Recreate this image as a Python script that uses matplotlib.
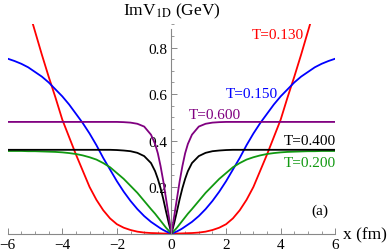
import matplotlib
matplotlib.use("Agg")
import matplotlib.pyplot as plt
import numpy as np
from matplotlib.ticker import MultipleLocator, FixedLocator

plt.rcParams['font.family'] = ['Liberation Serif', 'DejaVu Serif']
plt.rcParams['mathtext.fontset'] = 'stix'

# values, x >= 0 half (curves are symmetric in x)
x_half = [0, 0.1, 0.2, 0.3, 0.4, 0.5, 0.6, 0.75, 1.0, 1.25, 1.5, 1.75, 2.0, 2.25,
          2.5, 2.75, 3.0, 3.25, 3.5, 3.75, 4.0, 4.25, 4.5, 4.75, 5.0, 5.25, 5.5,
          5.75, 6.0]
v_t130 = [0, 0, 0, 0, 0.0005, 0.001, 0.0015, 0.002, 0.004, 0.008, 0.015, 0.025,
          0.04, 0.065, 0.1, 0.145, 0.2, 0.27, 0.34, 0.415, 0.49, 0.585, 0.675,
          0.77, 0.87, 0.97, 1.07, 1.17, 1.27]
v_t150 = [0, 0.004, 0.009, 0.015, 0.022, 0.03, 0.038, 0.05, 0.075, 0.105, 0.14,
          0.18, 0.225, 0.275, 0.325, 0.38, 0.43, 0.475, 0.515, 0.555, 0.59, 0.62,
          0.65, 0.675, 0.695, 0.715, 0.73, 0.742, 0.752]
v_t200 = [0, 0.012, 0.025, 0.04, 0.055, 0.07, 0.085, 0.105, 0.14, 0.175, 0.205,
          0.235, 0.26, 0.285, 0.303, 0.318, 0.328, 0.336, 0.342, 0.346, 0.349,
          0.351, 0.352, 0.353, 0.354, 0.354, 0.355, 0.355, 0.355]
v_t400 = [0, 0.045, 0.095, 0.148, 0.195, 0.235, 0.268, 0.303, 0.333, 0.347, 0.354,
          0.357, 0.359, 0.36, 0.36, 0.36, 0.36, 0.36, 0.36, 0.36, 0.36, 0.36,
          0.36, 0.36, 0.36, 0.36, 0.36, 0.36, 0.36]
v_t600 = [0, 0.075, 0.15, 0.225, 0.29, 0.345, 0.385, 0.425, 0.46, 0.472, 0.477,
          0.479, 0.48, 0.48, 0.48, 0.48, 0.48, 0.48, 0.48, 0.48, 0.48, 0.48,
          0.48, 0.48, 0.48, 0.48, 0.48, 0.48, 0.48]

labels = ['T=0.130', 'T=0.150', 'T=0.200', 'T=0.400', 'T=0.600']
colors = ['#ff0000', '#0000ff', '#119911', '#000000', '#800080']
label_pos = [(3.88, 0.858), (2.96, 0.603), (5.07, 0.306), (5.07, 0.399), (1.6, 0.514)]


def full(half):
    # mirror the x >= 0 readings to x < 0
    half = list(half)
    return half[:0:-1] + half


xs = np.array([-v for v in x_half[:0:-1]] + x_half)

fig = plt.figure(figsize=(3.9, 2.53), dpi=100)
ax = fig.add_axes([0.0197, 0.0731, 0.84, 0.827])

for vals, c in zip([v_t130, v_t150, v_t200, v_t400, v_t600], colors):
    ax.plot(xs, full(vals), color=c, lw=1.3, solid_joinstyle='round')

for lab, c, (tx, ty) in zip(labels, colors, label_pos):
    ax.text(tx, ty, lab, color=c, fontsize=11, ha='center', va='center')

ax.text(5.44, 0.098, '(a)', fontsize=11, ha='center', va='center')

ax.set_xlim(-6, 6)
ax.set_ylim(0, 0.9)

for s in ['top', 'right']:
    ax.spines[s].set_visible(False)
ax.spines['left'].set_position(('data', 0))
ax.spines['bottom'].set_position(('data', 0))
ax.spines['left'].set_bounds(0, 0.88)
for s in ['left', 'bottom']:
    ax.spines[s].set_color('#888888')
    ax.spines[s].set_linewidth(0.8)

ax.xaxis.set_major_locator(FixedLocator([-6, -4, -2, 0, 2, 4, 6]))
ax.xaxis.set_minor_locator(MultipleLocator(0.5))
ax.yaxis.set_major_locator(FixedLocator([0.2, 0.4, 0.6, 0.8]))
ax.yaxis.set_minor_locator(MultipleLocator(0.05))
ax.tick_params(which='both', direction='in', color='#888888', labelsize=11,
               labelcolor='black')
ax.tick_params(which='major', length=4, width=0.7)
ax.tick_params(which='minor', length=2, width=0.6)
ax.tick_params(axis='x', pad=3)
ax.tick_params(axis='y', pad=3)

fig.text(0.44, 0.954, r'ImV$_{\mathrm{1D}}$ (GeV)', fontsize=12.5,
         ha='center', va='center')
fig.text(0.935, 0.068, 'x (fm)', fontsize=12.5, ha='center', va='center')

fig.savefig('out.png', dpi=100)
